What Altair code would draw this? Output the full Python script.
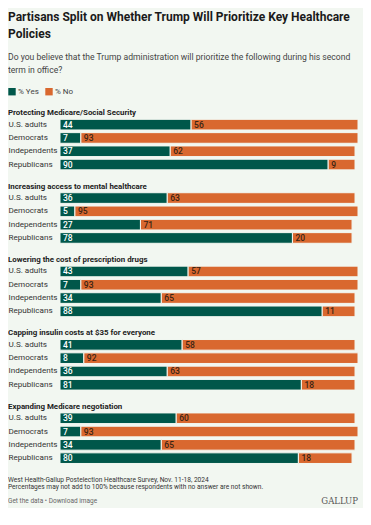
import altair as alt
import pandas as pd

groups = [
    "Protecting Medicare/Social Security",
    "Increasing access to mental healthcare",
    "Lowering the cost of prescription drugs",
    "Capping insulin costs at $35 for everyone",
    "Expanding Medicare negotiation",
]
segments = ["U.S. adults", "Democrats", "Independents", "Republicans"]
yes_vals = [
    [44, 7, 37, 90],
    [36, 5, 27, 78],
    [43, 7, 34, 88],
    [41, 8, 36, 81],
    [39, 7, 34, 80],
]
no_vals = [
    [56, 93, 62, 9],
    [63, 95, 71, 20],
    [57, 93, 65, 11],
    [58, 92, 63, 18],
    [60, 93, 65, 18],
]
answers = ["% Yes", "% No"]
colors = ["#00574a", "#d9682f"]
label_colors = ["#ffffff", "#3a2414"]
title_lines = ["Partisans Split on Whether Trump Will Prioritize Key Healthcare", "Policies"]
subtitle_lines = [
    "Do you believe that the Trump administration will prioritize the following during his second",
    "term in office?",
]
footnotes = [
    "West Health-Gallup Postelection Healthcare Survey, Nov. 11-18, 2024",
    "Percentages may not add to 100% because respondents with no answer are not shown.",
]
links_text = "Get the data \u2022 Download image"
brand = "GALLUP"

BG = "#f2f7f1"
FONT = "Roboto"
PLOT_W = 298
STEP = 13.3
AXIS_OFF = 52


def panel(gi):
    rows = []
    for si, seg in enumerate(segments):
        y = yes_vals[gi][si]
        n = no_vals[gi][si]
        rows.append({"segment": seg, "answer": answers[0], "start": 0, "end": y, "value": y, "tcol": label_colors[0]})
        rows.append({"segment": seg, "answer": answers[1], "start": y, "end": y + n, "value": n, "tcol": label_colors[1]})
    df = pd.DataFrame(rows)
    base = alt.Chart(df)
    ycode = alt.Y(
        "segment:N",
        sort=segments,
        title=None,
        scale=alt.Scale(paddingInner=0.2, paddingOuter=0.1),
        axis=alt.Axis(
            domain=False,
            ticks=False,
            labelAlign="left",
            labelPadding=AXIS_OFF,
            labelFont=FONT,
            labelFontSize=8.1,
            labelColor="#333333",
        ),
    )
    xcode = alt.X("start:Q", scale=alt.Scale(domain=[0, 100], nice=False), axis=None)
    bars = base.mark_bar(stroke=BG, strokeWidth=1).encode(
        x=xcode,
        x2="end:Q",
        y=ycode,
        color=alt.Color(
            "answer:N",
            scale=alt.Scale(domain=answers, range=colors),
            legend=alt.Legend(
                title=None,
                orient="none",
                legendX=-AXIS_OFF,
                legendY=-30.3,
                direction="horizontal",
                symbolType="square",
                symbolSize=55,
                symbolStrokeWidth=0,
                labelFont=FONT,
                labelFontSize=8,
                labelColor="#444444",
                columnPadding=6,
                labelOffset=2,
            ),
        ),
    )
    labels = base.mark_text(align="left", dx=3, font=FONT, fontSize=8.5, fontWeight=500).encode(
        x=xcode,
        y=ycode,
        text="value:Q",
        color=alt.Color("tcol:N", scale=None),
    )
    return alt.layer(bars, labels).properties(
        width=PLOT_W,
        height=STEP * 4,
        title=alt.TitleParams(
            groups[gi],
            anchor="start",
            frame="bounds",
            font=FONT,
            fontSize=7.9,
            fontWeight="bold",
            color="#222222",
            offset=1,
        ),
    )


panels = [panel(i) for i in range(len(groups))]

yfoot = alt.Y("row:Q", axis=None, scale=alt.Scale(domain=[-4, 24], reverse=True, nice=False, zero=False))
foot_df = pd.DataFrame({"line": footnotes, "row": [0, 6.5]})
foot = alt.Chart(foot_df).mark_text(align="left", baseline="middle", font=FONT, fontSize=6.6, color="#333333").encode(
    x=alt.value(-AXIS_OFF), y=yfoot, text="line:N"
)
links = alt.Chart(pd.DataFrame({"t": [links_text], "row": [21]})).mark_text(
    align="left", baseline="middle", font=FONT, fontSize=6.5, color="#666666"
).encode(x=alt.value(-AXIS_OFF), y=yfoot, text="t:N")
brand_c = alt.Chart(pd.DataFrame({"t": [brand], "row": [21]})).mark_text(
    align="right", baseline="middle", font="DejaVu Serif", fontSize=8.5, color="#555555"
).encode(x=alt.value(PLOT_W), y=yfoot, text="t:N")
footer = alt.layer(foot, links, brand_c).properties(width=PLOT_W, height=28)

chart = (
    alt.vconcat(*panels, footer, spacing=10.4)
    .properties(
        title=alt.TitleParams(
            title_lines,
            subtitle=subtitle_lines,
            anchor="start",
            frame="bounds",
            font=FONT,
            fontSize=12.0,
            fontWeight="bold",
            lineHeight=17,
            color="#1a1a1a",
            subtitleFont=FONT,
            subtitleFontSize=8.6,
            subtitleLineHeight=13,
            subtitleColor="#444444",
            subtitlePadding=12,
            offset=12,
        ),
        padding={"left": 0, "top": 3, "right": 4, "bottom": 2},
    )
    .configure(background=BG)
    .configure_view(stroke=None)
)

chart.save("out.html", embed_options={"renderer": "svg", "actions": False})
